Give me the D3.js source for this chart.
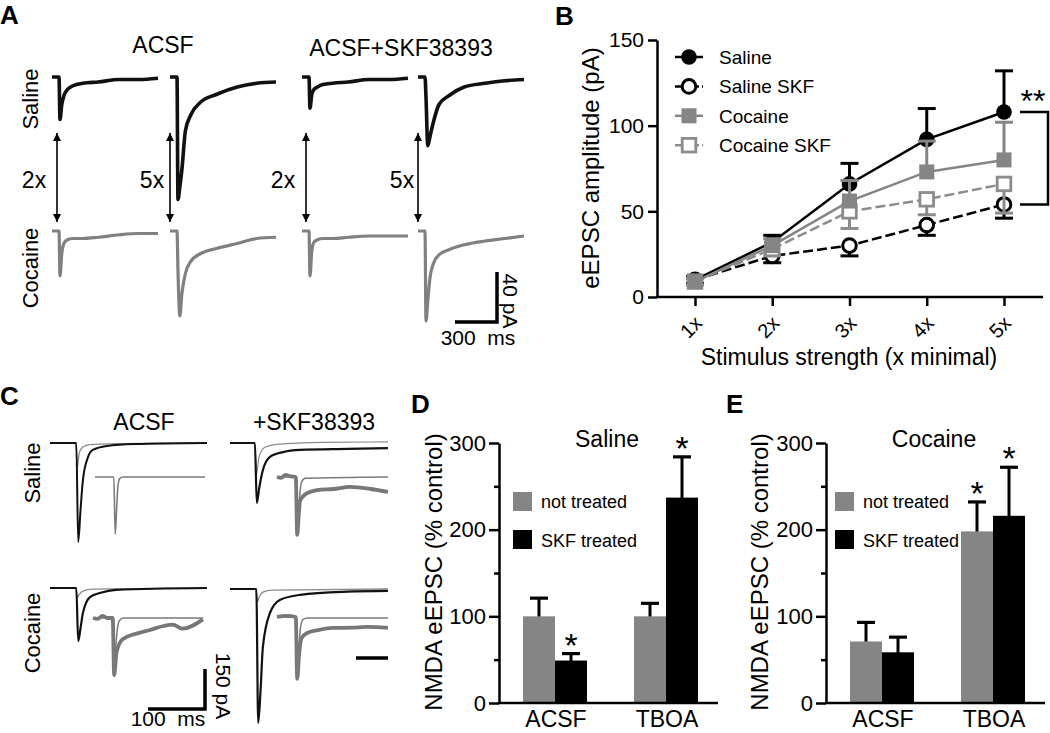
<!DOCTYPE html>
<html><head><meta charset="utf-8">
<script src="https://cdn.jsdelivr.net/npm/d3@7"></script>
<style>
body{margin:0;background:#fff}
svg{display:block}
text{font-family:"Liberation Sans",Arial,Helvetica,sans-serif;fill:#000}
</style>
</head><body>
<svg id="fig" width="1050" height="733"></svg>
<script>
// ===================== DATA =====================
// Panel A: example traces (time in ms, current in pA), shared time base
const traceTimeA = [0, 50, 57, 70, 85, 110, 150, 220, 330, 480, 620, 757];
const salineACSF2x = [0, 0, -34, -22, -15, -10, -7, -5, -4, -2, -2, -1];
const salineACSF5x = [0, 0, -98, -88, -74, -43, -30, -20, -14, -8, -5, -4];
const salineSKF2x  = [0, 0, -25, -14, -10, -8, -6, -5, -4, -2, -2, -1];
const salineSKF5x  = [0, 0, -16, -55, -48, -36, -22, -15, -8, -5, -3, -2];
const cocaineACSF2x = [0, 0, -36, -18, -10, -7, -6, -6, -5, -3, -2, -2];
const cocaineACSF5x = [0, 0, -32, -68, -50, -34, -24, -18, -14, -10, -6, -5];
const cocaineSKF2x  = [0, 0, -36, -16, -9, -7, -6, -6, -5, -4, -4, -4];
const cocaineSKF5x  = [0, 0, -72, -56, -38, -26, -19, -15, -11, -8, -6, -4];
const stimLabelsA = ["2x", "5x", "2x", "5x"];

// Panel C: example traces ([ms, pA])
const cSalACSFmain  = [[0,0],[56,0],[60,-371],[65,-250],[70,-139],[81,-52],[91,-26],[121,-11],[180,-4],[334,0]];
const cSalACSFsmall = [[0,0],[55,0],[58,-94],[62,-40],[70,-15],[85,-6],[140,-2],[334,0]];
const cSalACSFinset = [[0,0],[40,0],[43,-214],[46,-120],[49,-30],[53,-5],[60,0],[234,0]];
const cSalSKFmain   = [[0,0],[53,0],[57,-225],[62,-170],[70,-101],[85,-52],[113,-34],[149,-26],[250,-22],[336,-19]];
const cSalSKFsmall  = [[0,0],[53,0],[56,-120],[62,-50],[75,-15],[100,-5],[200,2],[336,4]];
const cSalSKFinset  = [[0,0],[40,0],[43,-217],[47,-100],[52,-20],[60,-5],[236,0]];
const cSalSKFinsetThick = [[0,0],[9,-3],[18,8],[30,2],[40,0],[43,-217],[46,-150],[49,-90],[60,-65],[85,-49],[120,-45],[155,-37],[200,-45],[236,-56]];
const cCocACSFmain  = [[0,0],[56,0],[60,-199],[65,-150],[70,-94],[85,-34],[106,-19],[140,-7],[334,0]];
const cCocACSFsmall = [[0,0],[55,0],[58,-37],[62,-25],[70,-12],[90,-4],[334,0]];
const cCocACSFinset = [[0,0],[42,0],[45,-214],[48,-120],[52,-40],[56,-10],[65,0],[234,0]];
const cCocACSFinsetThick = [[0,0],[10,-3],[20,8],[30,0],[42,0],[45,-214],[50,-130],[60,-85],[72,-71],[100,-55],[121,-45],[150,-30],[170,-25],[190,-40],[234,-5]];
const cCocSKFmain   = [[0,0],[56,0],[60,-502],[65,-380],[70,-217],[85,-90],[106,-41],[149,-22],[250,-10],[336,-7]];
const cCocSKFsmall  = [[0,0],[55,0],[58,-49],[62,-30],[70,-12],[90,-4],[336,0]];
const cCocSKFinset  = [[0,0],[40,0],[43,-232],[46,-130],[50,-40],[55,-10],[65,-4],[236,-4]];
const cCocSKFinsetThick = [[0,0],[20,4],[40,0],[43,-232],[47,-140],[52,-80],[64,-60],[90,-48],[119,-41],[160,-40],[191,-37],[236,-41]];

// Panel B: eEPSC amplitude (pA) vs stimulus strength
const stimLevels = ["1x", "2x", "3x", "4x", "5x"];
const salineAmp     = [10, 32, 66, 92, 108];
const salineErr     = [2, 4, 12, 18, 24];
const salineSKFAmp  = [10, 24, 30, 42, 54];
const salineSKFErr  = [2, 4, 6, 6, 8];
const cocaineAmp    = [9, 30, 56, 73, 80];
const cocaineErr    = [2, 4, 12, 18, 22];
const cocaineSKFAmp = [9, 28, 50, 57, 66];
const cocaineSKFErr = [2, 4, 10, 9, 17];
const ampTicks = [0, 50, 100, 150];

// Panels D & E: NMDA eEPSC (% control)
const conditions = ["ACSF", "TBOA"];
const salineNotTreated    = [100, 100];
const salineNotTreatedErr = [21, 15];
const salineSKFTreated    = [49, 237];
const salineSKFTreatedErr = [8, 47];
const salineNotSig = [false, false];
const salineSKFSig = [true, true];
const cocaineNotTreated    = [71, 198];
const cocaineNotTreatedErr = [22, 34];
const cocaineSKFTreated    = [58.5, 216];
const cocaineSKFTreatedErr = [17.5, 56];
const cocaineNotSig = [false, true];
const cocaineSKFSig = [false, true];
const nmdaMajorTicks = [0, 100, 200, 300];
const nmdaMinorTicks = [50, 150, 250];

// ===================== DRAWING =====================
const svg = d3.select("#fig");
const GRAY = "#858585";

function label(g, x, y, s, size, o = {}) {
  const t = g.append("text").attr("x", x).attr("y", y).text(s)
    .style("font-size", size + "px")
    .attr("text-anchor", o.anchor || "start");
  if (o.bold) t.style("font-weight", "bold");
  if (o.rot) t.attr("transform", `rotate(${o.rot},${x},${y})`);
  if (o.pre) t.style("white-space", "pre");
  if (o.baseline) t.attr("dominant-baseline", o.baseline);
  return t;
}

// panel letters
label(svg, 0, 24, "A", 26, {bold: true});
label(svg, 555, 25, "B", 26, {bold: true});
label(svg, 0, 405, "C", 26, {bold: true});
label(svg, 411, 413, "D", 26, {bold: true});
label(svg, 726, 413, "E", 26, {bold: true});

// ---------- Panel A ----------
const gA = svg.append("g");
const defs = svg.append("defs");
defs.append("marker").attr("id", "ah").attr("viewBox", "0 0 10 10")
  .attr("refX", 10).attr("refY", 5).attr("markerWidth", 8).attr("markerHeight", 9)
  .attr("orient", "auto-start-reverse").attr("markerUnits", "userSpaceOnUse")
  .append("path").attr("d", "M0,0 L10,5 L0,10 z").attr("fill", "#000");

const aStarts = [52, 170, 302, 418];
const aSalineBase = 77, aCocaineBase = 231;
const aMsPerWidth = 757, aWidth = 106;
const aPxPerPA = 1.25;
function drawTraceA(vals, x0, base, color, w) {
  const xs = d3.scaleLinear().domain([0, aMsPerWidth]).range([x0, x0 + aWidth]);
  const ys = d3.scaleLinear().domain([0, 40]).range([base, base - 40 * aPxPerPA]);
  const line = d3.line().x((d, i) => xs(traceTimeA[i])).y(d => ys(d)).curve(d3.curveMonotoneX);
  gA.append("path").attr("d", line(vals)).attr("fill", "none")
    .attr("stroke", color).attr("stroke-width", w).attr("stroke-linejoin", "round");
}
[salineACSF2x, salineACSF5x, salineSKF2x, salineSKF5x].forEach((v, i) =>
  drawTraceA(v, aStarts[i], aSalineBase, "#111", 3.6));
[cocaineACSF2x, cocaineACSF5x, cocaineSKF2x, cocaineSKF5x].forEach((v, i) =>
  drawTraceA(v, aStarts[i], aCocaineBase, "#808080", 3.2));

const arrowX = [57, 170, 306, 418];
arrowX.forEach(x => {
  gA.append("line").attr("x1", x).attr("x2", x).attr("y1", 133).attr("y2", 222)
    .attr("stroke", "#000").attr("stroke-width", 1.6)
    .attr("marker-start", "url(#ah)").attr("marker-end", "url(#ah)");
});
const stimLabelX = [34, 152, 283, 402];
stimLabelsA.forEach((s, i) => label(gA, stimLabelX[i], 188, s, 23, {anchor: "middle"}));
label(gA, 163, 53, "ACSF", 23, {anchor: "middle"});
label(gA, 401, 56, "ACSF+SKF38393", 23, {anchor: "middle"});
label(gA, 38, 99, "Saline", 22, {anchor: "middle", rot: -90});
label(gA, 38, 268, "Cocaine", 22, {anchor: "middle", rot: -90});
// scale bar A: 300 ms x 40 pA
{
  const sx = d3.scaleLinear().domain([0, aMsPerWidth]).range([0, aWidth]);
  const bx1 = 497, by1 = 322;
  gA.append("path").attr("d", `M${bx1 - sx(300)},${by1}H${bx1}V${by1 - 40 * aPxPerPA}`)
    .attr("fill", "none").attr("stroke", "#000").attr("stroke-width", 3.5);
  label(gA, 503, 301, "40 pA", 21, {anchor: "middle", rot: 90});
  label(gA, 478, 345, "300  ms", 21, {anchor: "middle", pre: true});
}

// ---------- Panel C ----------
const gC = svg.append("g");
const cPxPerMs = 0.47, cPxPerPA = 40 / 150;
function drawTraceC(pts, x0, base, color, w) {
  const xs = d3.scaleLinear().domain([0, 100]).range([x0, x0 + 100 * cPxPerMs]);
  const ys = d3.scaleLinear().domain([0, 150]).range([base, base - 150 * cPxPerPA]);
  const line = d3.line().x(d => xs(d[0])).y(d => ys(d[1])).curve(d3.curveMonotoneX);
  gC.append("path").attr("d", line(pts)).attr("fill", "none")
    .attr("stroke", color).attr("stroke-width", w).attr("stroke-linejoin", "round");
}
// Saline ACSF
drawTraceC(cSalACSFsmall, 50, 443, "#8a8a8a", 1.3);
drawTraceC(cSalACSFmain, 50, 443, "#111", 2);
drawTraceC(cSalACSFinset, 95, 477, "#7a7a7a", 1.6);
// Saline SKF
drawTraceC(cSalSKFsmall, 230, 443, "#8a8a8a", 1.2);
drawTraceC(cSalSKFmain, 230, 443, "#111", 2.2);
drawTraceC(cSalSKFinsetThick, 277, 477, "#777", 3.8);
drawTraceC(cSalSKFinset, 277, 477, "#7a7a7a", 1.5);
// Cocaine ACSF
drawTraceC(cCocACSFsmall, 50, 588, "#8a8a8a", 1.3);
drawTraceC(cCocACSFmain, 50, 588, "#111", 2.2);
drawTraceC(cCocACSFinsetThick, 93, 618, "#777", 3.8);
drawTraceC(cCocACSFinset, 93, 618, "#7a7a7a", 1.5);
// Cocaine SKF
drawTraceC(cCocSKFsmall, 230, 589, "#8a8a8a", 1.3);
drawTraceC(cCocSKFmain, 230, 589, "#111", 2.2);
drawTraceC(cCocSKFinsetThick, 277, 617, "#777", 3.8);
drawTraceC(cCocSKFinset, 277, 617, "#7a7a7a", 1.5);

label(gC, 144, 430, "ACSF", 23, {anchor: "middle"});
label(gC, 314, 430, "+SKF38393", 23, {anchor: "middle"});
label(gC, 40, 473, "Saline", 22, {anchor: "middle", rot: -90});
label(gC, 40, 633, "Cocaine", 22, {anchor: "middle", rot: -90});
gC.append("path").attr("d", `M${195 - 100 * cPxPerMs},709H205V${709 - 150 * cPxPerPA}`)
  .attr("fill", "none").attr("stroke", "#000").attr("stroke-width", 3.5);
label(gC, 216, 686, "150 pA", 21, {anchor: "middle", rot: 90});
label(gC, 168, 726, "100  ms", 21, {anchor: "middle", pre: true});
gC.append("line").attr("x1", 356).attr("x2", 388).attr("y1", 658).attr("y2", 658)
  .attr("stroke", "#000").attr("stroke-width", 3.5);

// ---------- Panel B ----------
const gB = svg.append("g");
const bAxisX = 657, bAxisEnd = 1043;
const bx = d3.scalePoint().domain(stimLevels).range([695, 1004]);
const by = d3.scaleLinear().domain([0, 150]).range([297, 40]);

const yAxB = gB.append("g").attr("transform", `translate(${bAxisX},0)`)
  .call(d3.axisLeft(by).tickValues(ampTicks).tickSize(9).tickSizeOuter(0).tickPadding(4));
yAxB.select(".domain").attr("stroke-width", 2.5);
yAxB.selectAll(".tick line").attr("stroke-width", 2.5);
yAxB.selectAll(".tick text").style("font-size", "21px").attr("font-family", null);

gB.append("line").attr("x1", bAxisX - 1).attr("x2", bAxisEnd).attr("y1", by(0)).attr("y2", by(0))
  .attr("stroke", "#000").attr("stroke-width", 2.5);
const xAxB = gB.append("g").attr("transform", `translate(0,${by(0)})`)
  .call(d3.axisBottom(bx).tickSize(9).tickSizeOuter(0).tickFormat(""));
xAxB.select(".domain").remove();
xAxB.selectAll(".tick line").attr("stroke-width", 2.5);
stimLevels.forEach(s => label(gB, bx(s) - 4, 327, s, 20,
  {anchor: "middle", baseline: "central", rot: -45}));
label(gB, 849, 365, "Stimulus strength (x minimal)", 23, {anchor: "middle"});
label(gB, 599, 168, "eEPSC amplitude (pA)", 24, {anchor: "middle", rot: -90});

const seriesB = [
  {name: "Saline", vals: salineAmp, err: salineErr, dir: 1, color: "#000", fill: "#000", shape: "circle", dash: null},
  {name: "Saline SKF", vals: salineSKFAmp, err: salineSKFErr, dir: -1, color: "#000", fill: "#fff", shape: "circle", dash: "10,4"},
  {name: "Cocaine", vals: cocaineAmp, err: cocaineErr, dir: 1, color: GRAY, fill: GRAY, shape: "square", dash: null},
  {name: "Cocaine SKF", vals: cocaineSKFAmp, err: cocaineSKFErr, dir: -1, color: "#8c8c8c", fill: "#fff", shape: "square", dash: "10,4"}
];
function marker(g, s, x, y) {
  const open = s.fill === "#fff";
  if (s.shape === "circle") {
    g.append("circle").attr("cx", x).attr("cy", y).attr("r", open ? 6.8 : 7.8)
      .attr("fill", s.fill).attr("stroke", s.color).attr("stroke-width", open ? 3 : 0);
  } else {
    const h = open ? 6.8 : 7.5;
    g.append("rect").attr("x", x - h).attr("y", y - h).attr("width", 2 * h).attr("height", 2 * h)
      .attr("fill", s.fill).attr("stroke", s.color).attr("stroke-width", open ? 2.8 : 0);
  }
}
const drawOrder = [1, 0, 3, 2];
drawOrder.forEach(k => {
  const s = seriesB[k];
  const line = d3.line().x((d, i) => bx(stimLevels[i])).y(d => by(d));
  gB.append("path").attr("d", line(s.vals)).attr("fill", "none")
    .attr("stroke", s.color).attr("stroke-width", 2.5)
    .attr("stroke-dasharray", s.dash);
});
drawOrder.forEach(k => {
  const s = seriesB[k];
  s.vals.forEach((v, i) => {
    const x = bx(stimLevels[i]);
    const yEnd = by(v + s.dir * s.err[i]);
    gB.append("line").attr("x1", x).attr("x2", x).attr("y1", by(v)).attr("y2", yEnd)
      .attr("stroke", s.color).attr("stroke-width", 3);
    gB.append("line").attr("x1", x - 9).attr("x2", x + 9).attr("y1", yEnd).attr("y2", yEnd)
      .attr("stroke", s.color).attr("stroke-width", 3);
  });
  s.vals.forEach((v, i) => marker(gB, s, bx(stimLevels[i]), by(v)));
});
// legend B
seriesB.forEach((s, i) => {
  const y = 57 + i * 29.4;
  gB.append("line").attr("x1", 675).attr("x2", 703).attr("y1", y).attr("y2", y)
    .attr("stroke", s.color).attr("stroke-width", 2.5).attr("stroke-dasharray", s.dash ? "6,3" : null);
  marker(gB, s, 689, y);
  label(gB, 719, y + 7, s.name, 19);
});
// significance bracket
gB.append("path").attr("d", `M1020,${by(salineAmp[4])}H1048V${by(salineSKFAmp[4])}H1020`)
  .attr("fill", "none").attr("stroke", "#000").attr("stroke-width", 2.5);
label(gB, 1033, 112, "**", 32, {anchor: "middle"});

// ---------- Panels D & E ----------
function barPanel(axisX, notV, notE, skfV, skfE, notSig, skfSig, title, yLabelX, legX) {
  const g = svg.append("g");
  const y = d3.scaleLinear().domain([0, 300]).range([703, 443]);
  const x = d3.scalePoint().domain(conditions).range([axisX + 56, axisX + 167]);
  const bw = 32;
  const yAx = g.append("g").attr("transform", `translate(${axisX},0)`)
    .call(d3.axisLeft(y).tickValues(nmdaMajorTicks).tickSize(10).tickSizeOuter(0).tickPadding(3));
  yAx.select(".domain").attr("stroke-width", 2.5);
  yAx.selectAll(".tick line").attr("stroke-width", 2.5);
  yAx.selectAll(".tick text").style("font-size", "22px").attr("font-family", null);
  const yMin = g.append("g").attr("transform", `translate(${axisX},0)`)
    .call(d3.axisLeft(y).tickValues(nmdaMinorTicks).tickSize(5).tickFormat(""));
  yMin.select(".domain").remove();
  yMin.selectAll(".tick line").attr("stroke-width", 2.5);

  const groups = [
    {vals: notV, err: notE, sig: notSig, fill: GRAY, off: -bw},
    {vals: skfV, err: skfE, sig: skfSig, fill: "#000", off: 0}
  ];
  groups.forEach(gr => {
    conditions.forEach((c, i) => {
      const x0 = x(c) + gr.off;
      const cx = x0 + bw / 2;
      const top = y(gr.vals[i]);
      const et = y(gr.vals[i] + gr.err[i]);
      g.append("line").attr("x1", cx).attr("x2", cx).attr("y1", top + 2).attr("y2", et)
        .attr("stroke", "#000").attr("stroke-width", 3);
      g.append("line").attr("x1", cx - 9).attr("x2", cx + 9).attr("y1", et).attr("y2", et)
        .attr("stroke", "#000").attr("stroke-width", 3.2);
      g.append("rect").attr("x", x0).attr("y", top).attr("width", bw).attr("height", y(0) - top)
        .attr("fill", gr.fill);
      if (gr.sig[i]) label(g, cx, et + 3, "*", 34, {anchor: "middle"});
    });
  });
  g.append("line").attr("x1", axisX - 1).attr("x2", axisX + 219).attr("y1", y(0)).attr("y2", y(0))
    .attr("stroke", "#000").attr("stroke-width", 2.5);
  conditions.forEach(c => label(g, x(c) + 1, 727, c, 23, {anchor: "middle"}));
  label(g, axisX + 108, 447, title, 23, {anchor: "middle"});
  label(g, yLabelX, 572, "NMDA eEPSC (% control)", 24, {anchor: "middle", rot: -90});
  // legend
  g.append("rect").attr("x", legX).attr("y", 492).attr("width", 19).attr("height", 19).attr("fill", GRAY);
  g.append("rect").attr("x", legX).attr("y", 530).attr("width", 19).attr("height", 19).attr("fill", "#000");
  label(g, legX + 28, 508, "not treated", 18);
  label(g, legX + 28, 547, "SKF treated", 18);
}
barPanel(499, salineNotTreated, salineNotTreatedErr, salineSKFTreated, salineSKFTreatedErr,
  salineNotSig, salineSKFSig, "Saline", 442, 513);
barPanel(826, cocaineNotTreated, cocaineNotTreatedErr, cocaineSKFTreated, cocaineSKFTreatedErr,
  cocaineNotSig, cocaineSKFSig, "Cocaine", 768, 835);
</script>
</body></html>
